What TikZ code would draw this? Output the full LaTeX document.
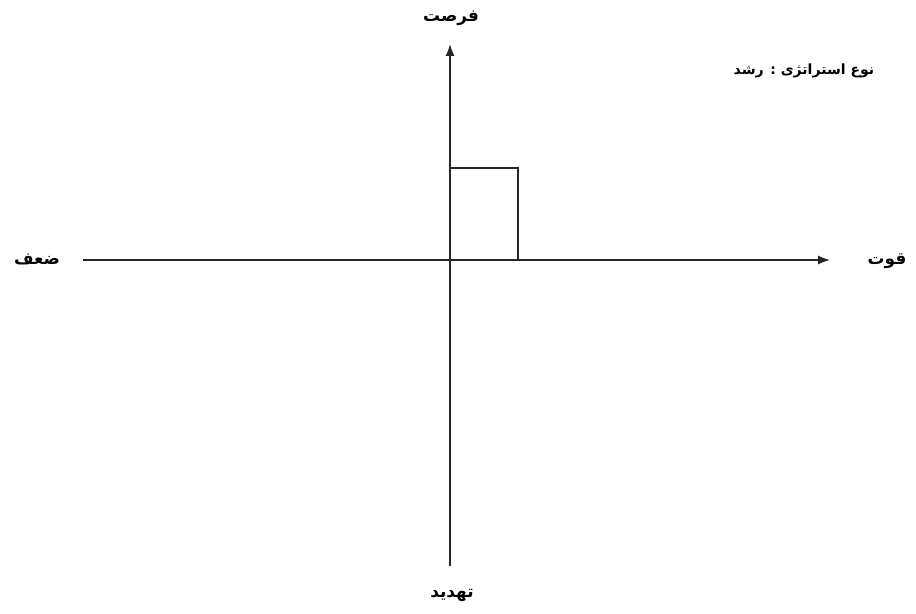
\documentclass[tikz,border=0pt]{standalone}
\usepackage{fontspec}
\usepackage{tikz}
\usetikzlibrary{arrows.meta}
\TeXXeTstate=1
\newfontfamily\arabicfont[Script=Arabic]{DejaVu Sans}
\tikzset{
  axisline/.style={line width=1.1pt, black!85},
  axislabel/.style={font=\arabicfont\bfseries\large, inner sep=1pt}
}

\begin{document}
\begin{tikzpicture}[x=0.025cm, y=-0.025cm]
  \useasboundingbox (0,0) rectangle (916,613);

  % === AXES ===
  \coordinate (origin) at (450,260);
  \coordinate (west) at (83,260);
  \coordinate (east) at (830,260);
  \coordinate (north) at (450,44);
  \coordinate (south) at (450,566);
  \draw[axisline, -{Latex[length=8.5pt, width=6.5pt]}] (west) -- (east);
  \draw[axisline, -{Latex[length=8.5pt, width=6.5pt]}] (south) -- (north);

  % Strategy box
  \coordinate (boxcorner) at (518,168);
  \draw[axisline] (origin) rectangle (boxcorner);

  % === LABELS ===
  \node[axislabel] (opportunity) at (451,18) {\beginR فرصت\endR};
  \node[axislabel] (threat) at (452,595) {\beginR تهدید\endR};
  \node[axislabel] (weakness) at (37,259) {\beginR ضعف\endR};
  \node[axislabel] (strength) at (887,261) {\beginR قوت\endR};
  \node[axislabel, font=\arabicfont\bfseries\normalsize] (strategy) at (804,71)
    {\beginR نوع استراتژی : رشد\endR};

\end{tikzpicture}
\end{document}
